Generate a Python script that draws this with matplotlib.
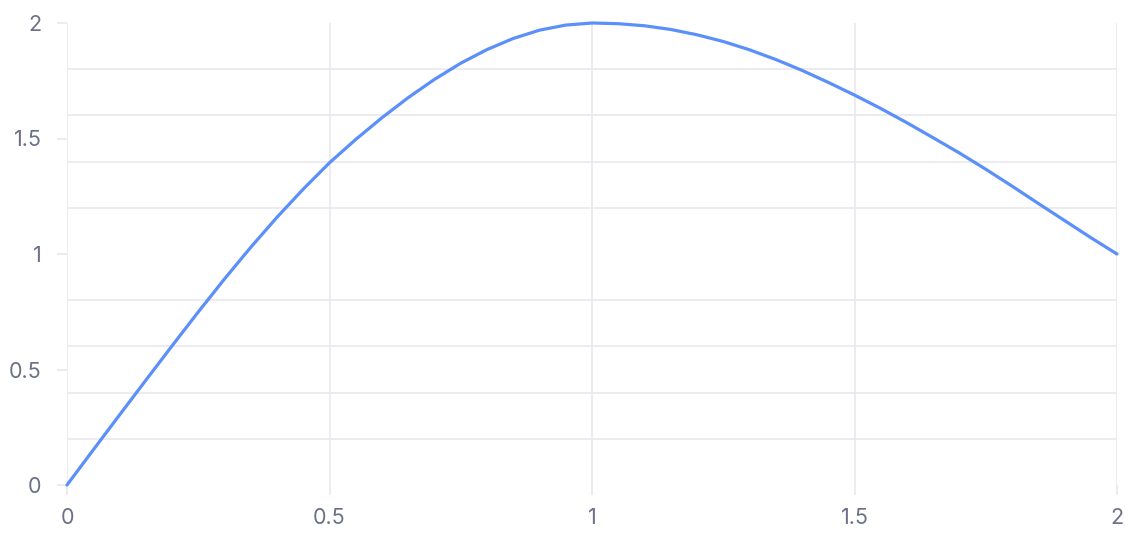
import matplotlib
matplotlib.use("Agg")
import matplotlib.pyplot as plt

x_vals = [0.0, 0.05, 0.1, 0.15, 0.2, 0.25, 0.3, 0.35, 0.4, 0.45, 0.5,
          0.55, 0.6, 0.65, 0.7, 0.75, 0.8, 0.85, 0.9, 0.95, 1.0,
          1.05, 1.1, 1.15, 1.2, 1.25, 1.3, 1.35, 1.4, 1.45, 1.5,
          1.55, 1.6, 1.65, 1.7, 1.75, 1.8, 1.85, 1.9, 1.95, 2.0]
y_vals = [0.0, 0.152, 0.303, 0.453, 0.602, 0.749, 0.892, 1.029, 1.159, 1.281, 1.395,
          1.496, 1.590, 1.677, 1.756, 1.826, 1.885, 1.933, 1.969, 1.991, 2.0,
          1.997, 1.988, 1.972, 1.949, 1.920, 1.884, 1.842, 1.795, 1.743, 1.688,
          1.630, 1.568, 1.503, 1.437, 1.367, 1.294, 1.219, 1.145, 1.071, 1.0]
x_ticks = [0, 0.5, 1, 1.5, 2]
x_labels = ["0", "0.5", "1", "1.5", "2"]
y_ticks = [0, 0.5, 1, 1.5, 2]
y_labels = ["0", "0.5", "1", "1.5", "2"]
y_grid = [0.0, 0.2, 0.4, 0.6, 0.8, 1.0, 1.2, 1.4, 1.6, 1.8, 2.0]

W, H = 1134, 538
fig = plt.figure(figsize=(W / 100, H / 100), dpi=100)
ax = fig.add_axes([67 / W, (H - 485) / H, 1050 / W, 462 / H])

grid_c = "#e8e8ee"
label_c = "#6b7186"

ax.set_xlim(0, 2)
ax.set_ylim(0, 2)
for s in ax.spines.values():
    s.set_visible(False)

ax.set_xticks(x_ticks)
ax.set_xticklabels(x_labels)
ax.set_yticks(y_ticks)
ax.set_yticklabels(y_labels)
ax.set_yticks(y_grid, minor=True)

ax.tick_params(axis="x", which="major", length=7.2, width=1.2, color=grid_c,
               labelsize=15.5, labelcolor=label_c, pad=9)
ax.tick_params(axis="y", which="major", length=7.2, width=1.2, color=grid_c,
               labelsize=15.5, labelcolor=label_c, pad=11)
ax.tick_params(axis="y", which="minor", length=0)

ax.grid(True, which="major", axis="x", color=grid_c, linewidth=1.2)
ax.grid(False, which="major", axis="y")
ax.grid(True, which="minor", axis="y", color=grid_c, linewidth=1.2)
ax.set_axisbelow(True)

for lab in ax.get_xticklabels() + ax.get_yticklabels():
    lab.set_fontfamily(["Inter", "DejaVu Sans"])

ax.plot(x_vals, y_vals, color="#5b8ff9", linewidth=2.3, solid_capstyle="round",
        solid_joinstyle="round", clip_on=False, zorder=3)

fig.savefig("out.png", dpi=100)
